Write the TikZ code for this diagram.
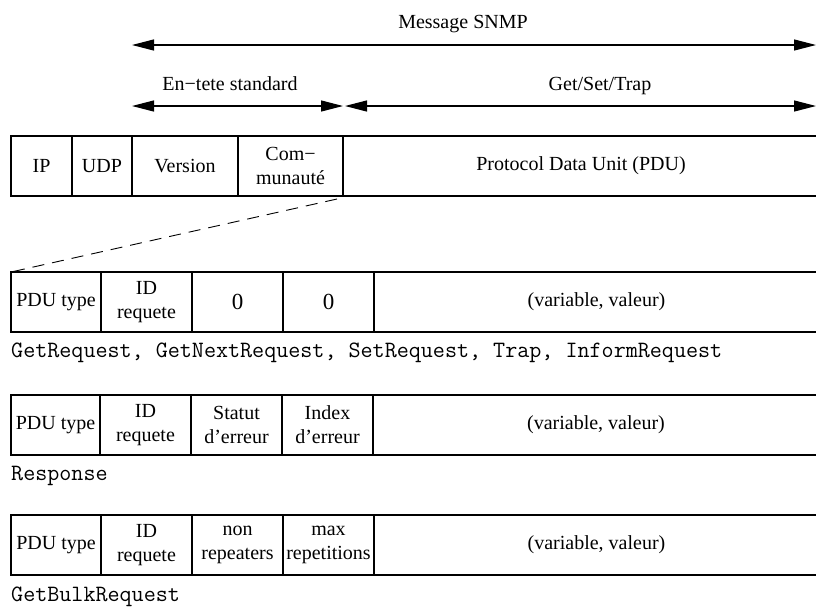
\documentclass[tikz,border=0pt]{standalone}
\usepackage{fontspec}
\setmainfont{Liberation Serif}
\usetikzlibrary{positioning,arrows.meta}

\begin{document}
\begin{tikzpicture}[x=1pt,y=-1pt,every node/.style={font=\fontsize{20}{24}\selectfont},
  cell/.style={draw,line width=1.2pt,align=center,minimum height=60pt,inner sep=0pt,outer sep=0pt,anchor=north west},
  lab/.style={inner sep=0pt,anchor=base},
  kind/.style={inner sep=0pt,anchor=base west,font=\ttfamily\fontsize{23.4}{24}\selectfont},
  dim/.style={{Triangle[length=22pt,width=11pt]}-{Triangle[length=22pt,width=11pt]},line width=1.2pt}]
\useasboundingbox (0,0) rectangle (816,606);
% en-tete du message
\node[cell,minimum width=61pt]  (ip)  at (11,136)  {IP};
\node[cell,minimum width=60pt]  (udp) at (72,136)  {UDP};
\node[cell,minimum width=106pt] (ver) at (132,136) {Version};
\node[cell,minimum width=105pt] (com) at (238,136) {Com−\\munauté};
\node[cell,minimum width=476pt] (pdu) at (343,136) {Protocol Data Unit (PDU)};
% etendues
\coordinate (msgL) at (132,45);
\coordinate (msgR) at (816,45);
\coordinate (entL) at (132,106);
\coordinate (entR) at (343,106);
\coordinate (gstL) at (345,106);
\coordinate (gstR) at (816,106);
\node[lab] (msg) at (463,28) {Message SNMP};
\node[lab] (ent) at (230,90) {En−tete standard};
\node[lab] (gst) at (600,90) {Get/Set/Trap};
\draw[dim] (msgL) -- (msgR);
\draw[dim] (entL) -- (entR);
\draw[dim] (gstL) -- (gstR);
% PDU get/set/trap
\node[cell,minimum width=90pt]  (ta) at (11,272)  {PDU type};
\node[cell,minimum width=91pt]  (ia) at (101,272) {ID\\requete};
\node[cell,minimum width=91pt,font=\fontsize{23}{24}\selectfont] (za) at (192,272) {0};
\node[cell,minimum width=91pt,font=\fontsize{23}{24}\selectfont] (zb) at (283,272) {0};
\node[cell,minimum width=445pt] (va) at (374,272) {(variable, valeur)};
\node[kind] (ka) at (11,357) {GetRequest, GetNextRequest, SetRequest, Trap, InformRequest};
\draw[dashed,dash pattern=on 12pt off 8pt,line width=0.9pt] ([xshift=-6pt,yshift=-3pt]com.south east) -- (ta.north west);
% PDU response
\node[cell,minimum width=89pt]  (tb) at (11,395)  {PDU type};
\node[cell,minimum width=91pt]  (ib) at (100,395) {ID\\requete};
\node[cell,minimum width=91pt]  (sb) at (191,395) {Statut\\d'erreur};
\node[cell,minimum width=91pt]  (xb) at (282,395) {Index\\d'erreur};
\node[cell,minimum width=446pt] (vb) at (373,395) {(variable, valeur)};
\node[kind] (kb) at (11,480) {Response};
% PDU getbulk
\node[cell,minimum width=90pt]  (tc) at (11,515)  {PDU type};
\node[cell,minimum width=91pt]  (ic) at (101,515) {ID\\requete};
\node[cell,minimum width=91pt]  (nc) at (192,515) {non\\repeaters};
\node[cell,minimum width=91pt]  (mc) at (283,515) {max\\repetitions};
\node[cell,minimum width=445pt] (vc) at (374,515) {(variable, valeur)};
\node[kind] (kc) at (11,601) {GetBulkRequest};
\end{tikzpicture}
\end{document}
